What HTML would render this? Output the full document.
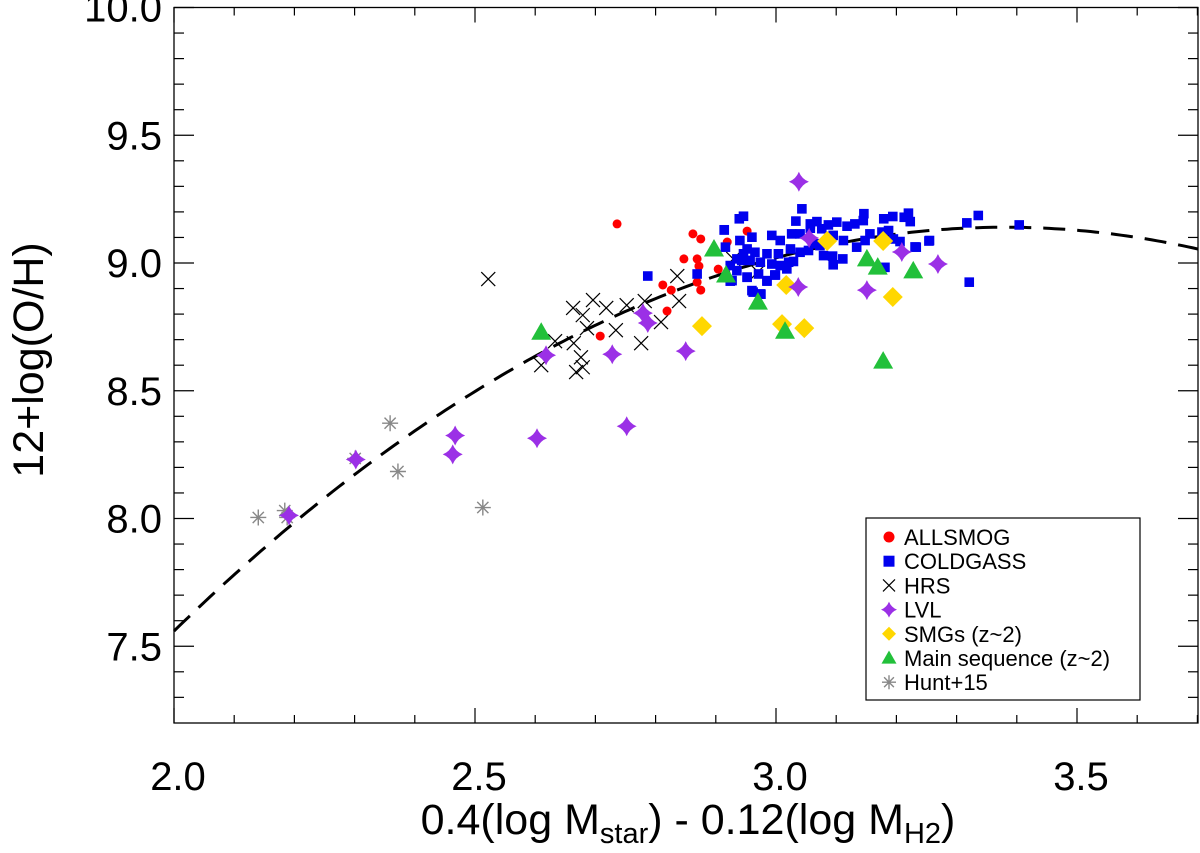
<!DOCTYPE html>
<html><head><meta charset="utf-8"><style>
html,body{margin:0;padding:0;background:#fff;}
svg{display:block;font-family:"Liberation Sans",Arial,sans-serif;}
</style></head><body>
<svg id="chart" width="1200" height="853" viewBox="0 0 1200 853" xmlns="http://www.w3.org/2000/svg">
<g id="marks"></g>
<g id="axes"></g>
<text x="0" y="0" transform="translate(43,360) rotate(-90)" text-anchor="middle" font-size="43">12+log(O/H)</text>
<text x="688" y="834" text-anchor="middle" font-size="43">0.4(log M<tspan font-size="29" dy="9">star</tspan><tspan dy="-9">) - 0.12(log M</tspan><tspan font-size="29" dy="9">H2</tspan><tspan dy="-9">)</tspan></text>
<g id="legend">
<rect x="866" y="518" width="274" height="182" fill="#fff" stroke="#000" stroke-width="1.2"/>
</g>
</svg>
<script>
const xTicks=[2.0,2.5,3.0,3.5];
const yTicks=[7.5,8.0,8.5,9.0,9.5,10.0];
const allsmogX=[2.736,2.862,2.875,2.847,2.869,2.872,2.812,2.826,2.875,2.819,2.708,2.952,2.904,2.919,2.869];
const allsmogY=[9.153,9.114,9.094,9.016,9.016,8.988,8.914,8.894,8.894,8.812,8.714,9.125,8.976,9.082,8.925];
const coldX=[2.914,2.939,2.946,3.043,3.033,3.057,3.068,3.087,3.101,3.118,3.131,3.146,3.145,3.179,3.194,3.213,3.220,3.223,3.317,3.336,3.404,3.321,3.255,3.233,3.181,2.916,2.940,2.960,2.993,3.007,3.026,3.040,3.057,3.076,3.073,3.095,3.112,3.134,3.148,3.156,3.176,3.187,3.195,3.206,2.952,2.965,2.985,3.004,3.024,3.040,3.054,3.065,3.079,3.094,3.111,3.095,2.935,2.943,2.957,2.974,2.993,3.018,3.029,2.924,2.935,2.952,2.971,2.985,2.999,2.927,2.960,2.974,3.021,3.007,2.946,2.787,2.869,2.914,2.924,2.952,2.962,2.975,2.985,2.998,3.254,3.231];
const coldY=[9.130,9.173,9.183,9.212,9.164,9.153,9.162,9.149,9.160,9.144,9.153,9.193,9.166,9.173,9.182,9.179,9.195,9.162,9.157,9.186,9.149,8.925,9.088,9.062,8.983,9.062,9.088,9.101,9.108,9.088,9.114,9.114,9.136,9.134,9.068,9.108,9.088,9.062,9.088,9.114,9.121,9.127,9.094,9.084,9.055,9.042,9.036,9.036,9.055,9.042,9.049,9.075,9.029,9.027,9.016,8.993,9.016,9.010,9.010,9.003,8.996,8.977,9.006,8.990,8.970,8.944,8.957,8.931,8.953,8.931,8.892,8.879,9.003,8.990,9.036,8.949,8.957,9.129,8.929,8.945,8.886,8.878,8.929,8.953,9.086,9.063];
const hrsX=[2.522,2.836,2.663,2.696,2.718,2.752,2.782,2.839,2.679,2.686,2.734,2.809,2.633,2.664,2.776,2.610,2.676,2.679,2.668,2.929,2.970];
const hrsY=[8.937,8.949,8.824,8.855,8.824,8.835,8.851,8.851,8.796,8.745,8.737,8.769,8.694,8.686,8.686,8.600,8.631,8.592,8.573,9.016,8.965];
const lvlX=[3.038,2.779,2.787,2.618,2.728,2.850,3.037,3.151,3.209,3.269,3.055,2.603,2.752,2.467,2.463,2.302,2.191];
const lvlY=[9.318,8.804,8.765,8.639,8.643,8.655,8.906,8.894,9.043,8.996,9.098,8.314,8.361,8.325,8.251,8.231,8.012];
const smgX=[2.877,3.017,3.010,3.047,3.194,3.178,3.085];
const smgY=[8.753,8.914,8.761,8.745,8.867,9.086,9.086];
const msX=[2.610,2.897,2.917,2.970,3.015,3.151,3.169,3.228,3.178];
const msY=[8.729,9.055,8.953,8.847,8.733,9.016,8.984,8.969,8.616];
const huntX=[2.140,2.184,2.188,2.301,2.359,2.372,2.513];
const huntY=[8.004,8.031,8.004,8.235,8.373,8.184,8.043];
const fitPeakX=3.38, fitPeakY=9.14, fitCurv=0.83;

const L=174,R=1198,T=7.5,B=723,XMIN=2.0,XMAX=2+(R-L)/602,YMAX=10.0,YMIN=10-(B-T)/255.5;
const sx=v=>L+(v-XMIN)/(XMAX-XMIN)*(R-L);
const sy=v=>T+(YMAX-v)/(YMAX-YMIN)*(B-T);
const NS="http://www.w3.org/2000/svg";
function mk(tag,attrs,parent){const e=document.createElementNS(NS,tag);for(const k in attrs)e.setAttribute(k,attrs[k]);parent.appendChild(e);return e;}
const marks=document.getElementById('marks'),axes=document.getElementById('axes'),legend=document.getElementById('legend');

function circle(cx,cy,p,r){r=r||4.5;return mk('circle',{cx:cx,cy:cy,r:r,fill:'#ff0000'},p);}
function square(cx,cy,p,h){h=h||4.8;return mk('rect',{x:cx-h,y:cy-h,width:2*h,height:2*h,fill:'#0000ee'},p);}
function cross(cx,cy,p,s){s=s||7;return mk('path',{d:`M${cx-s},${cy-s}L${cx+s},${cy+s}M${cx-s},${cy+s}L${cx+s},${cy-s}`,stroke:'#000','stroke-width':1.2,fill:'none'},p);}
function star(cx,cy,p,s){s=s||10;const w=s*0.28;return mk('path',{d:`M${cx},${cy-s}Q${cx+w},${cy-w} ${cx+s},${cy}Q${cx+w},${cy+w} ${cx},${cy+s}Q${cx-w},${cy+w} ${cx-s},${cy}Q${cx-w},${cy-w} ${cx},${cy-s}Z`,fill:'#9b30e6'},p);}
function diamond(cx,cy,p,s){s=s||10;return mk('path',{d:`M${cx},${cy-s}L${cx+s},${cy}L${cx},${cy+s}L${cx-s},${cy}Z`,fill:'#ffd700'},p);}
function tri(cx,cy,p,s){s=s||10;return mk('path',{d:`M${cx},${cy-s}L${cx+s},${cy+s*0.75}L${cx-s},${cy+s*0.75}Z`,fill:'#22c03a'},p);}
function aster(cx,cy,p,s){s=s||8;const d=s*0.7;return mk('path',{d:`M${cx-s},${cy}L${cx+s},${cy}M${cx},${cy-s}L${cx},${cy+s}M${cx-d},${cy-d}L${cx+d},${cy+d}M${cx-d},${cy+d}L${cx+d},${cy-d}`,stroke:'#888','stroke-width':1.4,fill:'none'},p);}

let d='';
for(let i=0;i<=200;i++){const x=XMIN+(XMAX-XMIN)*i/200;const y=fitPeakY-fitCurv*(x-fitPeakX)**2;d+=(i?'L':'M')+sx(x).toFixed(1)+','+sy(y).toFixed(1);}
const curve=mk('path',{d:d,fill:'none',stroke:'#000','stroke-width':3,'stroke-dasharray':'22,12'},marks);



function series(xs,ys,fn,name){xs.forEach((x,i)=>{const e=fn(sx(x),sy(ys[i]),marks);

});}
series(hrsX,hrsY,cross,'hrs-point');
series(huntX,huntY,aster,'hunt15-point');
series(allsmogX,allsmogY,circle,'allsmog-point');
series(coldX,coldY,square,'coldgass-point');
series(smgX,smgY,diamond,'smg-point');
series(msX,msY,tri,'main-sequence-point');
series(lvlX,lvlY,star,'lvl-point');

const frame=mk('rect',{x:L,y:T,width:R-L,height:B-T,fill:'none',stroke:'#000','stroke-width':1.3},axes);


for(let v=2.0;v<=XMAX+1e-6;v+=0.1){const x=sx(v);const maj=Math.abs(v*2-Math.round(v*2))<1e-6;const len=maj?15:8;
mk('line',{x1:x,y1:B,x2:x,y2:B-len,stroke:'#000','stroke-width':1.2},axes);
mk('line',{x1:x,y1:T,x2:x,y2:T+len,stroke:'#000','stroke-width':1.2},axes);}
for(let v=7.3;v<=10.0+1e-6;v+=0.1){const y=sy(v);const maj=Math.abs(v*2-Math.round(v*2))<1e-6;const len=maj?20:10;
mk('line',{x1:L,y1:y,x2:L+len,y2:y,stroke:'#000','stroke-width':1.2},axes);
mk('line',{x1:R,y1:y,x2:R-len,y2:y,stroke:'#000','stroke-width':1.2},axes);}
xTicks.forEach(v=>{const t=mk('text',{x:sx(v)+4,y:790,'text-anchor':'middle','font-size':40},axes);t.textContent=v.toFixed(1);

});
yTicks.forEach(v=>{const t=mk('text',{x:162,y:sy(v)+14,'text-anchor':'end','font-size':40},axes);t.textContent=v.toFixed(1);

});

const legendLabels=['ALLSMOG','COLDGASS','HRS','LVL','SMGs (z~2)','Main sequence (z~2)','Hunt+15'];
const legendFns=[(x,y,p)=>circle(x,y,p,5.5),(x,y,p)=>square(x,y,p,5.5),(x,y,p)=>cross(x,y,p,6),(x,y,p)=>star(x,y,p,8),(x,y,p)=>diamond(x,y,p,7),(x,y,p)=>tri(x,y,p,7.5),(x,y,p)=>aster(x,y,p,7)];
legendLabels.forEach((lab,i)=>{const y=537+i*24.2;const g=mk('g',{},legend);


legendFns[i](889,y,g);const t=mk('text',{x:904,y:y+8,'font-size':22},g);t.textContent=lab;});
</script>
</body></html>
